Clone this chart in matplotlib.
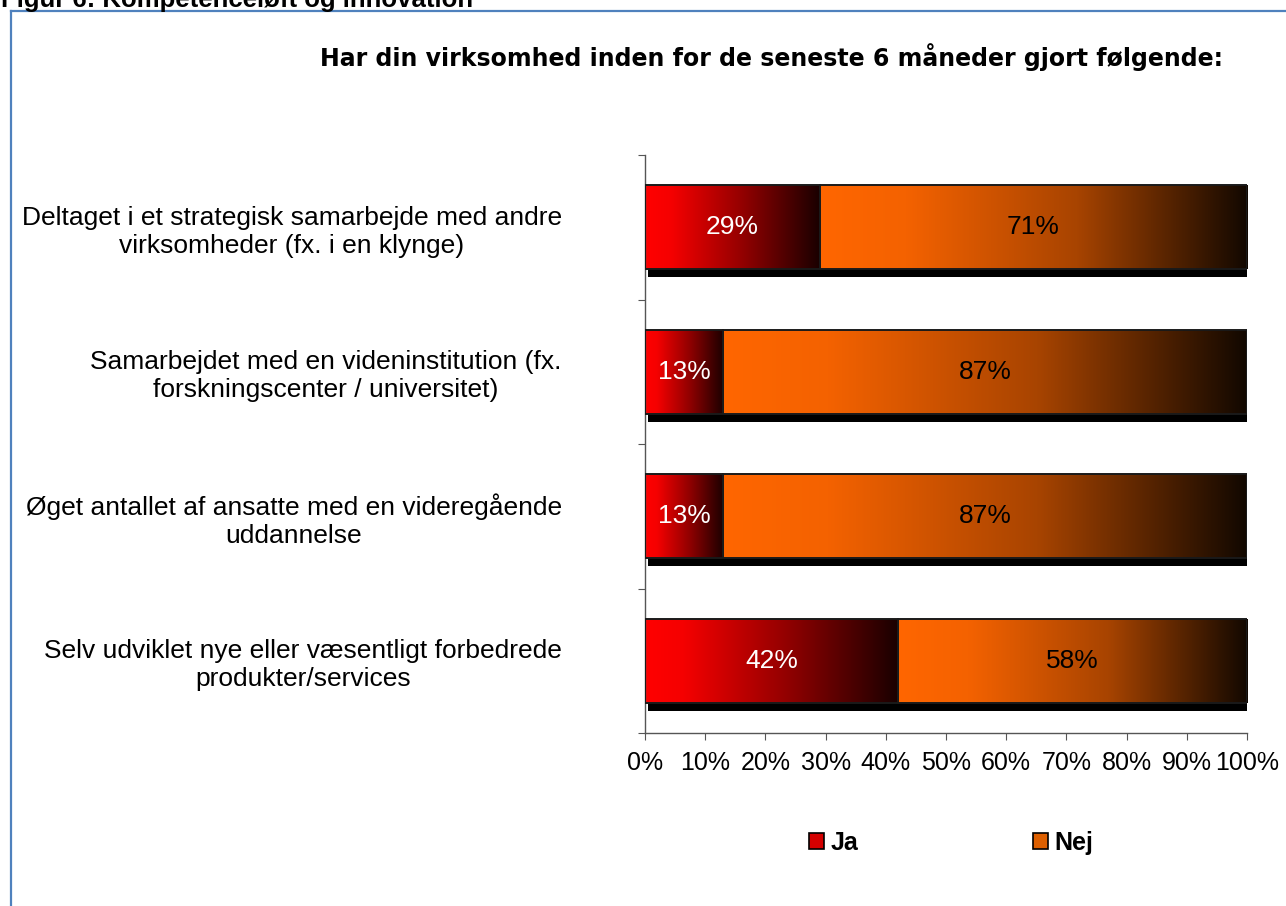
import numpy as np
import matplotlib.pyplot as plt
import matplotlib.transforms as mtransforms
from matplotlib.colors import LinearSegmentedColormap
from matplotlib.patches import Rectangle
from matplotlib.lines import Line2D

categories = ['Deltaget i et strategisk samarbejde med andre\nvirksomheder (fx. i en klynge)',
              'Samarbejdet med en videninstitution (fx.\nforskningscenter / universitet)',
              'Øget antallet af ansatte med en videregående\nuddannelse',
              'Selv udviklet nye eller væsentligt forbedrede\nprodukter/services']
ja = [29, 13, 13, 42]
nej = [71, 87, 87, 58]
series_names = ['Ja', 'Nej']
xticks = [0, 10, 20, 30, 40, 50, 60, 70, 80, 90, 100]

plt.rcParams['font.family'] = ['Liberation Sans', 'DejaVu Sans']

ja_cmap = LinearSegmentedColormap.from_list('ja', [(0, '#FF0000'), (0.15, '#F50000'), (0.55, '#950000'), (1, '#1A0000')])
nej_cmap = LinearSegmentedColormap.from_list('nej', [(0, '#FF6600'), (0.2, '#F46200'), (0.6, '#A84400'), (1, '#120800')])

fig = plt.figure(figsize=(12.86, 9.06), dpi=100)
ax = fig.add_axes([645/1286, 173/906, 602/1286, 578/906])

y = np.arange(len(categories))[::-1]
h = 0.58

# shadow under the bars
shadow = ax.transData + mtransforms.ScaledTranslation(3/100, -8/100, fig.dpi_scale_trans)
ax.barh(y, np.array(ja) + np.array(nej), height=h, color='black', transform=shadow, zorder=1)

bars_ja = ax.barh(y, ja, height=h, facecolor='none', edgecolor='#1a1a1a', linewidth=1.4, zorder=3)
bars_nej = ax.barh(y, nej, left=ja, height=h, facecolor='none', edgecolor='#1a1a1a', linewidth=1.4, zorder=3)

grad = np.linspace(0, 1, 256).reshape(1, -1)
for bars, cmap, tcol in [(bars_ja, ja_cmap, 'white'), (bars_nej, nej_cmap, 'black')]:
    for b in bars:
        x0, y0, w, hh = b.get_x(), b.get_y(), b.get_width(), b.get_height()
        ax.imshow(grad, cmap=cmap, extent=[x0, x0 + w, y0, y0 + hh], aspect='auto', zorder=2)
        ax.text(x0 + w/2, y0 + hh/2, f'{w:.0f}%', ha='center', va='center',
                color=tcol, fontsize=19, zorder=4)

ax.set_xlim(0, 100)
ax.set_ylim(-0.5, len(categories) - 0.5)
ax.set_xticks(xticks)
ax.set_xticklabels([f'{t}%' for t in xticks], fontsize=18)
ax.set_yticks(np.arange(len(categories) + 1) - 0.5)
ax.set_yticklabels([])
ax.set_yticks(y, categories, minor=True, fontsize=19)
for lbl in ax.get_yticklabels(minor=True):
    lbl.set_multialignment('center')
ax.tick_params(axis='y', which='minor', length=0, pad=60)
ax.tick_params(axis='y', which='major', length=5, direction='out', color='#555555')
ax.tick_params(axis='x', length=5, direction='out', color='#555555', pad=8)
for s in ['top', 'right']:
    ax.spines[s].set_visible(False)
for s in ['left', 'bottom']:
    ax.spines[s].set_color('#555555')
    ax.spines[s].set_linewidth(1)

fig.text(0.600, 1 - 57/906, 'Har din virksomhed inden for de seneste 6 måneder gjort følgende:',
         ha='center', va='center', fontsize=17, fontweight='bold', family='DejaVu Sans')

# clipped heading from the page above the frame
fig.text(1/1286, 1 - 7/906, 'Figur 6: Kompetenceløft og innovation', ha='left', va='baseline',
         fontsize=18.5, fontweight='bold')

# blue frame
fig.add_artist(Line2D([11/1286, 11/1286], [0, 1 - 11/906], color='#4F81BD', lw=1.6))
fig.add_artist(Line2D([11/1286, 1], [1 - 11/906, 1 - 11/906], color='#4F81BD', lw=1.6))

handles = [Rectangle((0, 0), 1, 1, facecolor='#D40000', edgecolor='black', lw=1.2),
           Rectangle((0, 0), 1, 1, facecolor='#DD5F00', edgecolor='black', lw=1.2)]
fig.legend(handles, series_names, loc='center', bbox_to_anchor=(951/1286, 1 - 843/906), ncol=2,
           frameon=False, handlelength=0.6, handleheight=0.6, handletextpad=0.25, columnspacing=7.0,
           prop={'size': 18, 'weight': 'bold'})

fig.savefig('out.png', dpi=100)
